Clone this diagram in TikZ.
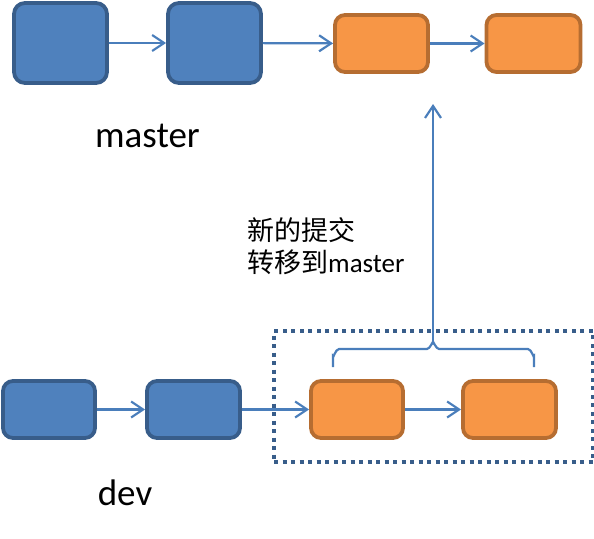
\documentclass[tikz,border=0pt]{standalone}
\usepackage{fontspec}
\setmainfont{Carlito}
\newfontfamily\cjk{Noto Sans CJK SC}
\usetikzlibrary{arrows.meta}
\definecolor{bfill}{HTML}{4F81BD}
\definecolor{bline}{HTML}{385D8A}
\definecolor{ofill}{HTML}{F79646}
\definecolor{oline}{HTML}{B66D31}
\definecolor{conn}{HTML}{4A7EBB}
\tikzset{
  bbox/.style={draw=bline, fill=bfill, line width=3.8pt, rounded corners=11pt, inner sep=0pt},
  obox/.style={draw=oline, fill=ofill, line width=3.8pt, rounded corners=10pt, inner sep=0pt},
  link/.style={draw=conn, line width=2.2pt, -{Straight Barb[length=12pt,width=16pt,line width=2.2pt]}},
  frame/.style={draw=bline, line width=4pt, dash pattern=on 4pt off 4.5pt, inner sep=0pt},
  bigtxt/.style={font=\fontsize{37}{44}\selectfont, inner sep=0pt},
  smalltxt/.style={font=\fontsize{27}{32}\selectfont, inner sep=0pt},
}
\begin{document}
\begin{tikzpicture}[x=1pt,y=-1pt]
\useasboundingbox (0,0) rectangle (594,538);
% top row
\node[bbox, minimum width=93pt, minimum height=80pt] (t1) at (60.5,43) {};
\node[bbox, minimum width=93pt, minimum height=80pt] (t2) at (214.5,43) {};
\node[obox, minimum width=93pt, minimum height=57pt] (t3) at (381.5,43.5) {};
\node[obox, minimum width=94pt, minimum height=57pt] (t4) at (533.5,43.5) {};
\draw[link] (t1) -- (t2);
\draw[link] (t2) -- (t3);
\draw[link] (t3) -- (t4);
\node[bigtxt, anchor=base] (lm) at (147.5,147) {master};
% frame
\node[frame, minimum width=319pt, minimum height=131pt] (grp) at (433.5,396.5) {};
% bottom row
\node[bbox, minimum width=92pt, minimum height=57pt, rounded corners=10pt] (b1) at (49,409.5) {};
\node[bbox, minimum width=93pt, minimum height=57pt, rounded corners=10pt] (b2) at (193.5,409.5) {};
\node[obox, minimum width=92pt, minimum height=57pt] (b3) at (357,409.5) {};
\node[obox, minimum width=93pt, minimum height=57pt] (b4) at (509.5,409.5) {};
\draw[link] (b1) -- (b2);
\draw[link] (b2) -- (b3);
\draw[link] (b3) -- (b4);
\node[bigtxt, anchor=base] (ld) at (125,505) {dev};
% brace
\coordinate (peak) at (433,343);
\coordinate (tip) at (433,104);
\draw[draw=conn, line width=2.2pt] (333,367) -- (333,356) to[out=-90,in=180] (339,349) -- (427,349) to[out=0,in=90] (peak) to[out=90,in=180] (439,349) -- (528,349) to[out=0,in=-90] (534,356) -- (534,367);
\draw[link] (peak) -- (tip);
% text
\node[smalltxt, anchor=base west] (l1) at (247,240) {\cjk 新的提交};
\node[smalltxt, anchor=base west] (l2) at (247,272) {{\cjk 转移到}master};
\end{tikzpicture}
\end{document}
